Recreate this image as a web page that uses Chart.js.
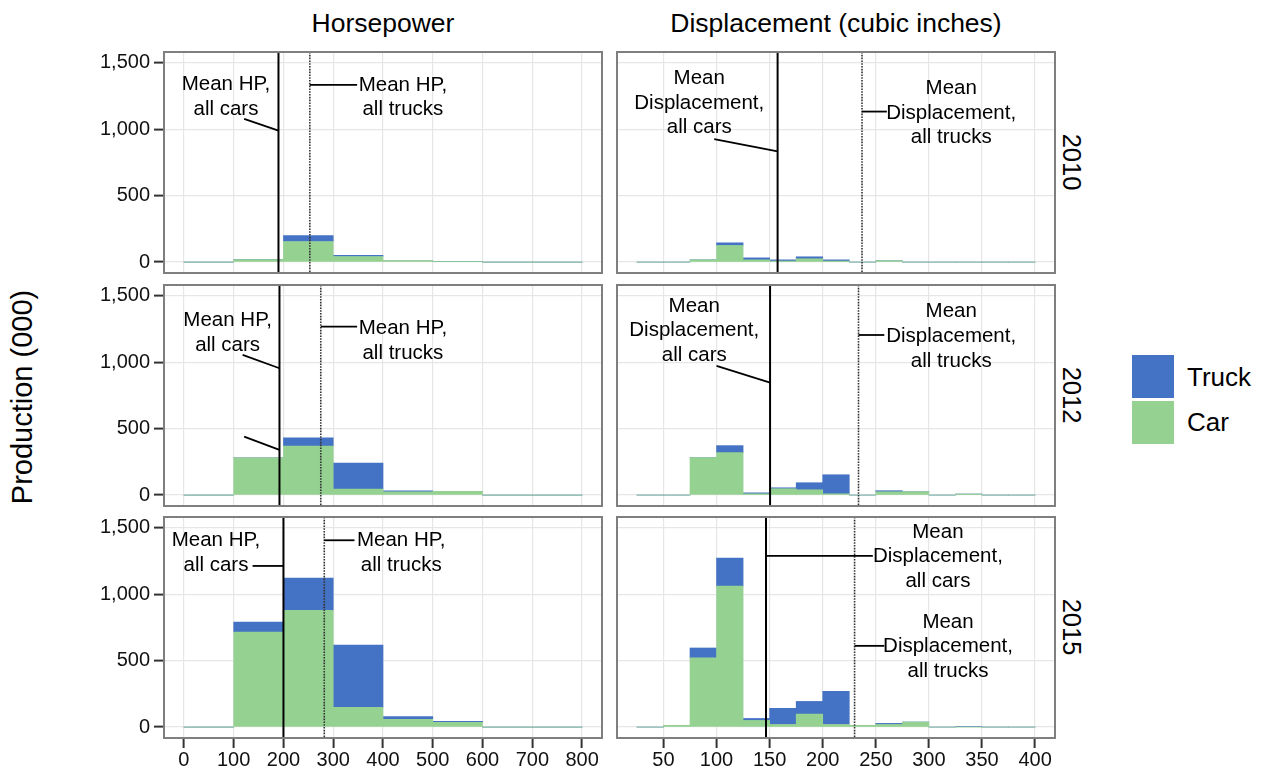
<!DOCTYPE html>
<html>
<head>
<meta charset="utf-8">
<script src="https://cdn.jsdelivr.net/npm/chart.js@4.4.1/dist/chart.umd.min.js"></script>
<style>
  html, body { margin: 0; padding: 0; background: #fff; }
  #wrap { position: relative; width: 1269px; height: 775px; overflow: hidden; font-family: 'Liberation Sans', Arial, sans-serif; color: #000; }
  #wrap canvas { position: absolute; }
  .txt { position: absolute; transform: translate(-50%, -50%); white-space: nowrap; }
  .key { position: absolute; width: 42px; height: 43px; }
</style>
</head>
<body>
<div id="wrap">
  <div class="txt" style="left:383px;top:23px;font-size:26.5px">Horsepower</div>
  <div class="txt" style="left:836px;top:23px;font-size:26.5px">Displacement (cubic inches)</div>
  <div class="txt" style="left:1071px;top:162px;font-size:25.5px;transform:translate(-50%,-50%) rotate(90deg)">2010</div>
  <div class="txt" style="left:1071px;top:395px;font-size:25.5px;transform:translate(-50%,-50%) rotate(90deg)">2012</div>
  <div class="txt" style="left:1071px;top:627px;font-size:25.5px;transform:translate(-50%,-50%) rotate(90deg)">2015</div>
  <div class="txt" style="left:22px;top:397px;font-size:29px;transform:translate(-50%,-50%) rotate(-90deg)">Production (000)</div>
  <div class="key" style="left:1132px;top:355px;background:#4472C4"></div>
  <div class="key" style="left:1132px;top:401px;background:#95D291"></div>
  <div class="txt" style="left:1187px;top:377px;font-size:26px;transform:translate(0,-50%)">Truck</div>
  <div class="txt" style="left:1187px;top:422px;font-size:26px;transform:translate(0,-50%)">Car</div>
</div>
<script>
// titik tengah bin histogram
const hpBinCenters = [50, 150, 250, 350, 450, 550, 650, 750];
const dispBinCenters = [37.5, 62.5, 87.5, 112.5, 137.5, 162.5, 187.5, 212.5, 237.5, 262.5, 287.5, 312.5, 337.5, 362.5, 387.5];

// produksi (000) per bin, HP
const hpCar2010 = [0, 18, 155, 42, 12, 5, 0, 0];
const hpTruck2010 = [0, 0, 45, 8, 0, 0, 0, 0];
const hpCar2012 = [0, 280, 369, 45, 25, 28, 0, 0];
const hpTruck2012 = [0, 0, 61, 196, 8, 0, 0, 0];
const hpCar2015 = [0, 714, 879, 148, 58, 35, 0, 0];
const hpTruck2015 = [0, 75, 242, 468, 22, 8, 0, 0];

// produksi (000) per bin, displacement
const dispCar2010 = [0, 0, 17, 125, 17, 8, 25, 8, 0, 10, 0, 0, 0, 0, 0];
const dispTruck2010 = [0, 0, 0, 20, 15, 9, 15, 9, 0, 0, 0, 0, 0, 0, 0];
const dispCar2012 = [0, 0, 283, 319, 10, 48, 40, 10, 0, 25, 25, 0, 8, 0, 0];
const dispTruck2012 = [0, 0, 0, 53, 7, 7, 53, 143, 0, 8, 0, 0, 0, 0, 0];
const dispCar2015 = [0, 13, 520, 1060, 50, 20, 98, 20, 13, 20, 38, 0, 0, 0, 0];
const dispTruck2015 = [0, 0, 75, 211, 15, 121, 95, 249, 0, 8, 0, 0, 5, 0, 0];

// garis rata-rata
const hpCarMean = [190, 192, 200];
const hpTruckMean = [253, 275, 282];
const dispCarMean = [157.5, 150.4, 146.6];
const dispTruckMean = [237, 233.7, 230];

// tick
const hpTicks = [0, 100, 200, 300, 400, 500, 600, 700, 800];
const dispTicks = [50, 100, 150, 200, 250, 300, 350, 400];
const yTicks = [0, 500, 1000, 1500];
const yTickLabels = ['0', '500', '1,000', '1,500'];

const CAR_COLOR = '#95D291';
const TRUCK_COLOR = '#4472C4';

const hpCarText = ['Mean HP,', 'all cars'];
const hpTruckText = ['Mean HP,', 'all trucks'];
const dispCarText = ['Mean', 'Displacement,', 'all cars'];
const dispTruckText = ['Mean', 'Displacement,', 'all trucks'];

// anotasi: teks (x, y baris pertama) dan garis penunjuk dalam koordinat data
const panels = [
  { row: 0, col: 0, centers: hpBinCenters, car: hpCar2010, truck: hpTruck2010, ticks: hpTicks, xMin: -40, xMax: 840,
    carMean: hpCarMean[0], truckMean: hpTruckMean[0],
    notes: [{ lines: hpCarText, x: 84.5, y: 1338 }, { lines: hpTruckText, x: 440, y: 1333 }],
    leaders: [[121, 1077, hpCarMean[0], 989], [hpTruckMean[0], 1333, 348, 1333]] },
  { row: 0, col: 1, centers: dispBinCenters, car: dispCar2010, truck: dispTruck2010, ticks: dispTicks, xMin: 6.25, xMax: 418.75,
    carMean: dispCarMean[0], truckMean: dispTruckMean[0],
    notes: [{ lines: dispCarText, x: 83.7, y: 1383 }, { lines: dispTruckText, x: 321, y: 1308 }],
    leaders: [[97.8, 925, dispCarMean[0], 832], [dispTruckMean[0], 1132, 260.4, 1132]] },
  { row: 1, col: 0, centers: hpBinCenters, car: hpCar2012, truck: hpTruck2012, ticks: hpTicks, xMin: -40, xMax: 840,
    carMean: hpCarMean[1], truckMean: hpTruckMean[1],
    notes: [{ lines: hpCarText, x: 87.8, y: 1312 }, { lines: hpTruckText, x: 440, y: 1255 }],
    leaders: [[118, 1054, hpCarMean[1], 954], [121, 440, hpCarMean[1], 340], [hpTruckMean[1], 1267, 348, 1267]] },
  { row: 1, col: 1, centers: dispBinCenters, car: dispCar2012, truck: dispTruck2012, ticks: dispTicks, xMin: 6.25, xMax: 418.75,
    carMean: dispCarMean[1], truckMean: dispTruckMean[1],
    notes: [{ lines: dispCarText, x: 79, y: 1423 }, { lines: dispTruckText, x: 321, y: 1380 }],
    leaders: [[100, 971, dispCarMean[1], 846], [dispTruckMean[1], 1204, 258, 1204]] },
  { row: 2, col: 0, centers: hpBinCenters, car: hpCar2015, truck: hpTruck2015, ticks: hpTicks, xMin: -40, xMax: 840,
    carMean: hpCarMean[2], truckMean: hpTruckMean[2],
    notes: [{ lines: hpCarText, x: 64.4, y: 1405 }, { lines: hpTruckText, x: 436.6, y: 1405 }],
    leaders: [[138, 1212, hpCarMean[2], 1212], [hpTruckMean[2], 1405, 342.7, 1405]] },
  { row: 2, col: 1, centers: dispBinCenters, car: dispCar2015, truck: dispTruck2015, ticks: dispTicks, xMin: 6.25, xMax: 418.75,
    carMean: dispCarMean[2], truckMean: dispTruckMean[2],
    notes: [{ lines: dispCarText, x: 308.5, y: 1468 }, { lines: dispTruckText, x: 318, y: 791 }],
    leaders: [[dispCarMean[2], 1287, 247.2, 1287], [dispTruckMean[2], 611, 258, 611]] }
];

Chart.defaults.font.family = "'Liberation Sans', Arial, sans-serif";
Chart.defaults.color = '#111';

const PANEL_W = 438, PANEL_H = 221;
const colLeft = [164, 617];
const rowTop = [52, 285, 517];

function zeroPadding(s) {
  s.paddingTop = 0; s.paddingBottom = 0; s.paddingLeft = 0; s.paddingRight = 0;
}

// plugin untuk garis rata-rata, anotasi dan bingkai panel
function decoPlugin(p) {
  return {
    id: 'deco',
    afterDatasetsDraw(chart) {
      const { ctx, chartArea: a, scales: { x, y } } = chart;
      ctx.save();
      // garis rata-rata mobil
      ctx.strokeStyle = '#000';
      ctx.lineWidth = 2;
      let px = x.getPixelForValue(p.carMean);
      ctx.beginPath(); ctx.moveTo(px, a.top); ctx.lineTo(px, a.bottom); ctx.stroke();
      // garis rata-rata truk (titik-titik)
      ctx.strokeStyle = '#333';
      ctx.lineWidth = 1.6;
      ctx.setLineDash([1.6, 1.2]);
      px = x.getPixelForValue(p.truckMean);
      ctx.beginPath(); ctx.moveTo(px, a.top); ctx.lineTo(px, a.bottom); ctx.stroke();
      ctx.setLineDash([]);
      // garis penunjuk
      ctx.strokeStyle = '#000';
      ctx.lineWidth = 1.8;
      p.leaders.forEach(l => {
        ctx.beginPath();
        ctx.moveTo(x.getPixelForValue(l[0]), y.getPixelForValue(l[1]));
        ctx.lineTo(x.getPixelForValue(l[2]), y.getPixelForValue(l[3]));
        ctx.stroke();
      });
      // teks anotasi
      ctx.fillStyle = '#000';
      ctx.font = "20.5px 'Liberation Sans', Arial, sans-serif";
      ctx.textAlign = 'center';
      ctx.textBaseline = 'middle';
      p.notes.forEach(n => {
        const tx = x.getPixelForValue(n.x);
        const ty = y.getPixelForValue(n.y);
        n.lines.forEach((t, i) => ctx.fillText(t, tx, ty + i * 24.8));
      });
      // bingkai
      ctx.strokeStyle = '#7f7f7f';
      ctx.lineWidth = 2;
      ctx.strokeRect(a.left, a.top, a.right - a.left, a.bottom - a.top);
      ctx.restore();
    }
  };
}

function makePanel(p) {
  const axisW = p.col === 0 ? 160 : 0;
  const axisH = p.row === 2 ? 36 : 0;
  const canvas = document.createElement('canvas');
  canvas.width = axisW + PANEL_W + 4;
  canvas.height = PANEL_H + axisH + 4;
  canvas.style.left = (colLeft[p.col] - axisW - 2) + 'px';
  canvas.style.top = (rowTop[p.row] - 2) + 'px';
  document.getElementById('wrap').appendChild(canvas);

  new Chart(canvas, {
    type: 'bar',
    data: {
      datasets: [
        { label: 'Car', data: p.centers.map((c, i) => ({ x: c, y: p.car[i] })), backgroundColor: CAR_COLOR },
        { label: 'Truck', data: p.centers.map((c, i) => ({ x: c, y: p.truck[i] })), backgroundColor: TRUCK_COLOR }
      ]
    },
    options: {
      responsive: false,
      animation: false,
      events: [],
      layout: { padding: 2 },
      datasets: { bar: { barPercentage: 1, categoryPercentage: 1, borderWidth: 0 } },
      plugins: { legend: { display: false }, tooltip: { enabled: false } },
      scales: {
        x: {
          type: 'linear',
          stacked: true,
          offset: false,
          min: p.xMin,
          max: p.xMax,
          afterBuildTicks: s => { s.ticks = p.ticks.map(v => ({ value: v })); },
          afterFit: s => { s.height = axisH; zeroPadding(s); },
          border: { display: false },
          grid: { offset: false, color: '#e6e6e6', lineWidth: 1.2, drawTicks: p.row === 2, tickLength: 10, tickColor: '#333', tickWidth: 2 },
          ticks: { display: p.row === 2, padding: 0, maxRotation: 0, autoSkip: false, font: { size: 20 }, color: '#111' }
        },
        y: {
          stacked: true,
          min: -82,
          max: 1580,
          afterBuildTicks: s => { s.ticks = yTicks.map(v => ({ value: v })); },
          afterFit: s => { s.width = axisW; zeroPadding(s); },
          border: { display: false },
          grid: { color: '#e6e6e6', lineWidth: 1.2, drawTicks: p.col === 0, tickLength: 10, tickColor: '#333', tickWidth: 2 },
          ticks: {
            display: p.col === 0, padding: 4, autoSkip: false, font: { size: 20 }, color: '#111',
            callback: v => yTickLabels[yTicks.indexOf(v)]
          }
        }
      }
    },
    plugins: [decoPlugin(p)]
  });
}

panels.forEach(makePanel);
</script>
</body>
</html>
